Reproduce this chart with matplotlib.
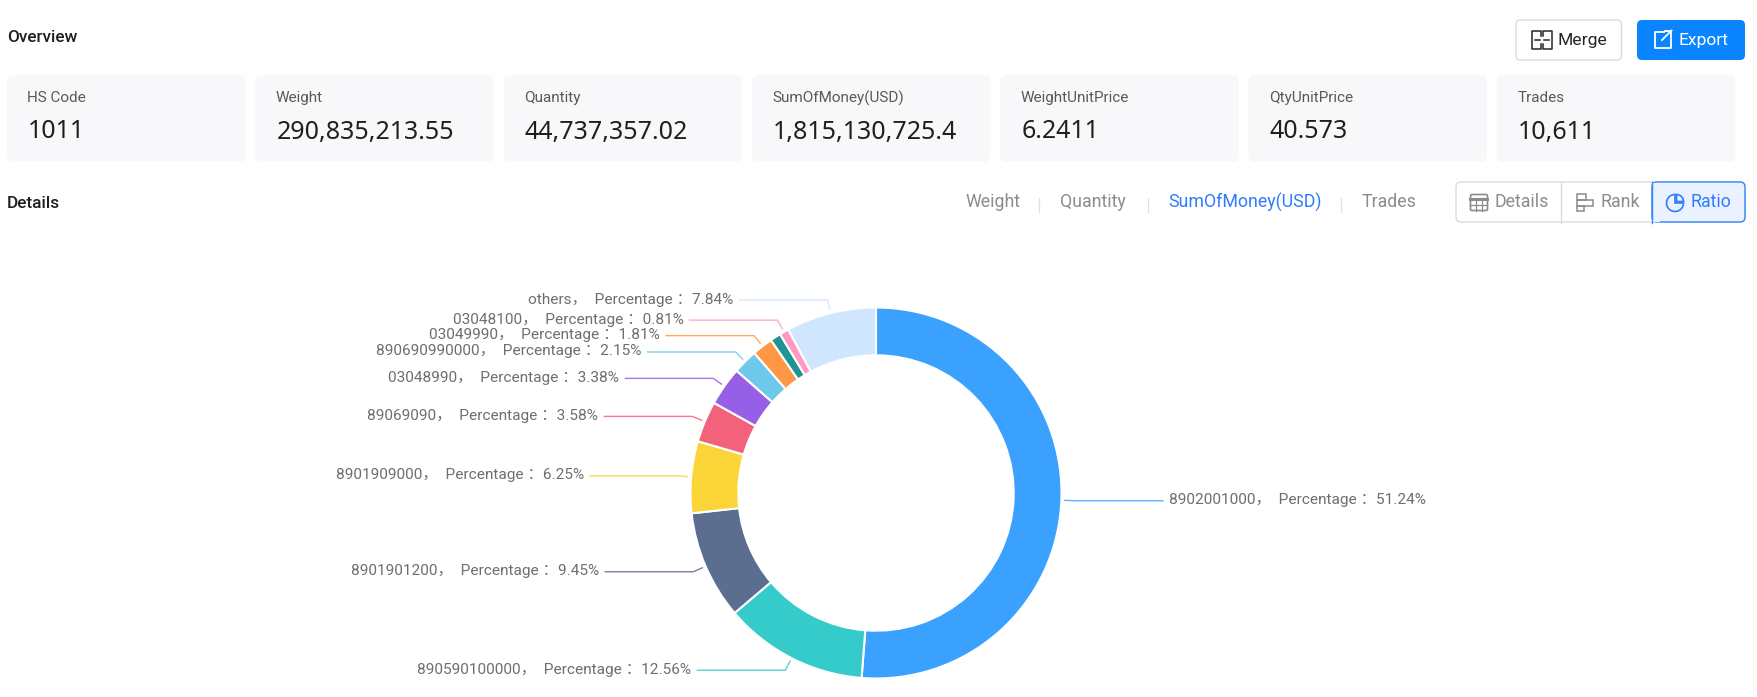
"""Recreates the HS code overview panel: stat cards, tabs and the ratio donut."""

import math

import matplotlib

matplotlib.use("Agg")
import matplotlib.pyplot as plt
from matplotlib.patches import FancyBboxPatch, Rectangle, Wedge

WIDTH, HEIGHT = 1758, 697

plt.rcParams["font.family"] = ["Roboto", "Noto Sans CJK SC", "DejaVu Sans"]

CARD_TITLES = ["HS Code", "Weight", "Quantity", "SumOfMoney(USD)", "WeightUnitPrice", "QtyUnitPrice", "Trades"]
CARD_VALUES = ["1011", "290,835,213.55", "44,737,357.02", "1,815,130,725.4", "6.2411", "40.573", "10,611"]

TAB_NAMES = ["Weight", "Quantity", "SumOfMoney(USD)", "Trades"]

# clockwise from 12 o'clock; the teal slice has no label in the reference, its share is what is left over
HS_CODES = ["8902001000", "890590100000", "8901901200", "8901909000", "89069090", "03048990",
            "890690990000", "03049990", "", "03048100", "others"]
SHARES = [51.24, 12.56, 9.45, 6.25, 3.58, 3.38, 2.15, 1.81, 0.93, 0.81, 7.84]
SLICE_COLORS = ["#3BA1FF", "#36CBCB", "#5B6E90", "#FBD437", "#F2637B", "#975FE5",
                "#6DC8EC", "#FF9845", "#1E9493", "#FF99C3", "#CFE6FE"]

CENTER_X, CENTER_Y = 876, 493
OUTER_R, INNER_R = 185.5, 137.7
LINE_START_R, ELBOW_R = 189, 199
LINE_RUN = 88  # horizontal part of every leader line
LABEL_GAP = 6

TEXT_DARK = "#1F1F1F"
TEXT_GREY = "#8C8C8C"
LINE_GREY = "#DCDCDC"
BLUE = "#2F7BFF"
px = 0.72  # 1 px in points at dpi 100


def rounded(ax, x0, y0, x1, y1, radius, face, edge="none", lw=0.0, z=1):
    ax.add_patch(FancyBboxPatch((x0, y0), x1 - x0, y1 - y0, boxstyle=f"round,pad=0,rounding_size={radius}",
                                facecolor=face, edgecolor=edge, linewidth=lw, zorder=z))


def draw_cards(ax):
    for i, (title, value) in enumerate(zip(CARD_TITLES, CARD_VALUES)):
        x0 = 7 + 248.3 * i
        rounded(ax, x0, 75, x0 + 238.4, 161.7, 6, "#F8F8FA")
        ax.text(x0 + 20.5, 98, title, fontsize=15.2 * px, color="#595959", va="center")
        ax.text(x0 + 21, 132, value, fontsize=25 * px, color=TEXT_DARK, va="center",
                family=["Noto Sans", "DejaVu Sans"], weight=600)


def draw_buttons(ax):
    ax.text(7, 37, "Overview", fontsize=17.3 * px, color=TEXT_DARK, va="center", weight="medium")
    ax.text(7, 203, "Details", fontsize=17.3 * px, color=TEXT_DARK, va="center", weight="medium")

    rounded(ax, 1516, 20, 1621.5, 60, 4, "white", LINE_GREY, 1.0)
    ax.text(1557.5, 40, "Merge", fontsize=17.5 * px, color="#262626", va="center")
    ax.plot([1541, 1541, 1532.5, 1532.5, 1541, 1541], [36, 31, 31, 49, 49, 44], color="#262626", lw=1.1)
    ax.plot([1543.5, 1543.5, 1552, 1552, 1543.5, 1543.5], [36, 31, 31, 49, 49, 44], color="#262626", lw=1.1)
    ax.plot([1535.5, 1540], [40, 40], color="#262626", lw=1.1)
    ax.plot([1544.5, 1549], [40, 40], color="#262626", lw=1.1)

    rounded(ax, 1637, 20, 1745, 60, 5, "#0A84FF")
    ax.text(1679, 40, "Export", fontsize=17.5 * px, color="white", va="center")
    ax.plot([1664, 1655.5, 1655.5, 1671, 1671], [32, 32, 47.5, 47.5, 39], color="white", lw=1.3)
    ax.plot([1662, 1671.5], [40, 30.5], color="white", lw=1.3)
    ax.plot([1665, 1671.5, 1671.5], [30.5, 30.5, 37], color="white", lw=1.3)


def draw_tabs(ax):
    for name, x in zip(TAB_NAMES, [965, 1060, 1168, 1362]):
        ax.text(x, 202, name, fontsize=17.8 * px, va="center", color=BLUE if name == "SumOfMoney(USD)" else TEXT_GREY)
    for x in [1039.3, 1147.7, 1341]:
        ax.plot([x, x], [198, 212], color="#E0E0E0", lw=0.9)

    rounded(ax, 1456, 182, 1745, 222, 5, "white", LINE_GREY, 1.0)
    rounded(ax, 1652, 182, 1745, 222, 5, "#EAF2FF", "#2F86FF", 1.0, z=2)
    ax.add_patch(Rectangle((1652, 182.5), 8, 39, facecolor="#EAF2FF", edgecolor="none", zorder=2))
    ax.plot([1652, 1652], [182, 223], color="#2F86FF", lw=1.0, zorder=3)
    ax.plot([1561, 1561], [182, 223], color=LINE_GREY, lw=1.0, zorder=3)

    ax.text(1495, 202, "Details", fontsize=17.8 * px, va="center", color=TEXT_GREY)
    ax.text(1600.5, 202, "Rank", fontsize=17.8 * px, va="center", color=TEXT_GREY)
    ax.text(1691, 202, "Ratio", fontsize=17.8 * px, va="center", color=BLUE, zorder=4)

    # table icon
    rounded(ax, 1470.5, 194.5, 1487.5, 210.5, 1.5, "none", TEXT_GREY, 1.2, z=3)
    ax.plot([1470.5, 1487.5], [199, 199], color=TEXT_GREY, lw=2.2)
    ax.plot([1470.5, 1487.5], [204.5, 204.5], color=TEXT_GREY, lw=0.9)
    for x in [1476, 1482]:
        ax.plot([x, x], [199, 210.5], color=TEXT_GREY, lw=0.9)
    # rank icon
    for x0, y0, x1, y1 in [(1577, 194, 1586, 200), (1577, 200, 1593, 205.5), (1577, 205.5, 1584, 211)]:
        ax.add_patch(Rectangle((x0, y0), x1 - x0, y1 - y0, fill=False, edgecolor=TEXT_GREY, linewidth=1.1, zorder=3))
    # ratio icon, angles are flipped because of the downward y axis
    ax.add_patch(Wedge((1675, 203), 8.5, 0, 270, fill=False, edgecolor=BLUE, linewidth=1.2, zorder=4))
    ax.add_patch(Wedge((1676.5, 201.5), 7, 270, 360, fill=False, edgecolor=BLUE, linewidth=1.2, zorder=4))


def draw_donut(ax):
    # the y axis runs downward here, so counterclockwise in data is clockwise on screen
    ax.pie(SHARES, colors=SLICE_COLORS, center=(CENTER_X, CENTER_Y), radius=OUTER_R, startangle=-90,
           counterclock=True, normalize=True, frame=True,
           wedgeprops={"width": OUTER_R - INNER_R, "edgecolor": "white", "linewidth": 1.5})

    total = sum(SHARES)
    passed = 0.0
    for code, share, color in zip(HS_CODES, SHARES, SLICE_COLORS):
        mid = 2 * math.pi * (passed + share / 2) / total
        passed += share
        if not code:
            continue
        dx, dy = math.sin(mid), -math.cos(mid)
        side = 1 if dx > 0 else -1
        elbow_x = CENTER_X + ELBOW_R * dx
        elbow_y = CENTER_Y + ELBOW_R * dy
        end_x = elbow_x + side * LINE_RUN
        ax.plot([CENTER_X + LINE_START_R * dx, elbow_x, end_x],
                [CENTER_Y + LINE_START_R * dy, elbow_y, elbow_y], color=color, lw=1.0, alpha=0.85)
        ax.text(end_x + side * LABEL_GAP, elbow_y - 0.5, f"{code}，  Percentage ：{share:.2f}%",
                fontsize=15.4 * px, color="#6E6E6E", va="center", ha="left" if side > 0 else "right")


def main():
    fig = plt.figure(figsize=(WIDTH / 100, HEIGHT / 100), dpi=100, facecolor="white")
    ax = fig.add_axes([0, 0, 1, 1])

    draw_donut(ax)
    draw_cards(ax)
    draw_buttons(ax)
    draw_tabs(ax)

    ax.set_aspect("auto")
    ax.set_xlim(0, WIDTH)
    ax.set_ylim(HEIGHT, 0)
    ax.axis("off")
    fig.savefig("out.png", dpi=100)
    plt.close(fig)


if __name__ == "__main__":
    main()
